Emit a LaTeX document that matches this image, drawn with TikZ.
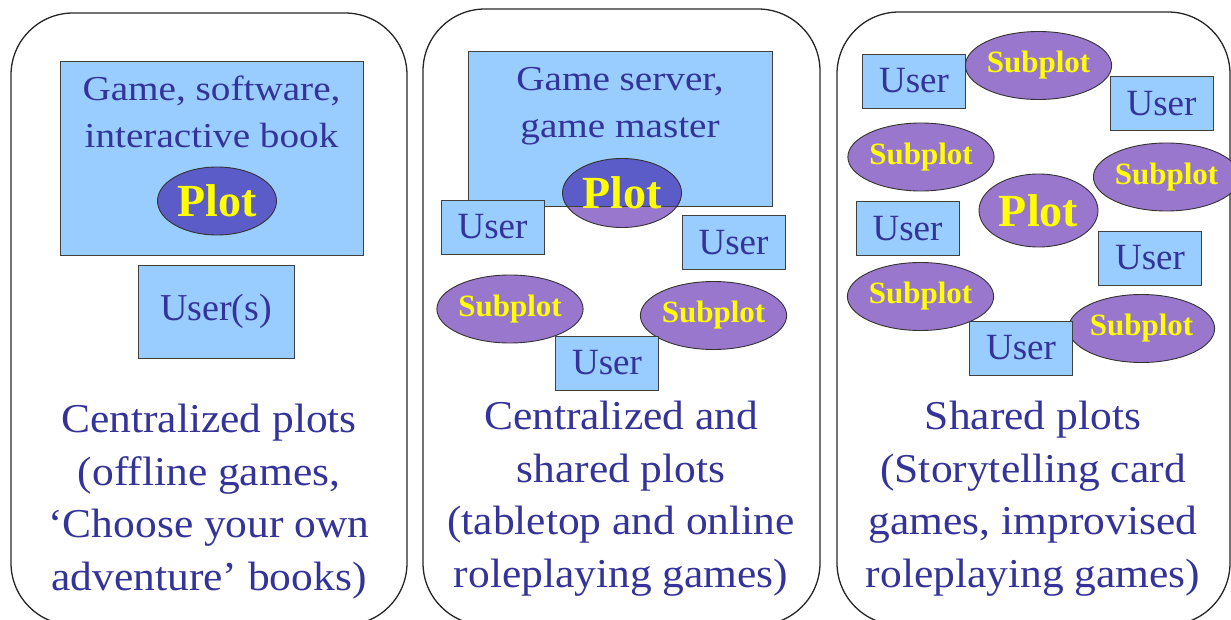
\documentclass[tikz,border=0pt]{standalone}
\usepackage{fontspec}
\setmainfont{Liberation Serif}
\newfontfamily\boxfont{Liberation Serif}[FakeStretch=1.12,Ligatures=TeX]
\newfontfamily\capfont{Liberation Serif}[FakeStretch=1.06,Ligatures=TeX]
\usetikzlibrary{shapes.geometric,positioning}

\definecolor{boxblue}{RGB}{153,204,255}
\definecolor{plotpurple}{RGB}{153,119,204}
\definecolor{plotdark}{RGB}{92,92,200}
\definecolor{textblue}{RGB}{51,51,153}
\definecolor{plotyellow}{RGB}{255,255,0}

\tikzset{
  panel/.style={draw=black!85, line width=1.3pt, rounded corners=62pt},
  bluebox/.style={draw=black!75, line width=0.9pt, fill=boxblue, inner sep=0pt},
  userbox/.style={bluebox, minimum width=103pt, minimum height=54pt, text=textblue, font=\fontsize{37}{42}\selectfont},
  plotnode/.style={ellipse, draw=black!80, line width=0.9pt, fill=plotpurple, inner sep=0pt, minimum width=119pt, minimum height=68pt, text=plotyellow, font=\bfseries\fontsize{46}{50}\selectfont},
  subplotnode/.style={plotnode, font=\bfseries\fontsize{31}{34}\selectfont},
  boxtext/.style={text=textblue, align=center, inner sep=0pt, font=\boxfont\fontsize{35}{47}\selectfont},
  caption/.style={text=textblue, align=center, inner sep=0pt, anchor=north, font=\capfont\fontsize{41}{52.5}\selectfont}
}

\begin{document}
\begin{tikzpicture}[x=1pt,y=-1pt]
\useasboundingbox (0,0) rectangle (1231,620);

%Panels
\draw[panel] (11,13) rectangle (407,625);
\draw[panel] (423,9) rectangle (820,625);
\draw[panel] (837,12) rectangle (1230,625);

%Centralized plots
\node[bluebox, minimum width=303pt, minimum height=194pt] (game) at (211.5,158) {};
\node[boxtext, below=15pt of game.north] (gametext) {Game, software,\\interactive book};
\node[plotnode, fill=plotdark] (plotA) at (217,201) {Plot};
\node[userbox, minimum width=156pt, minimum height=93pt, font=\fontsize{38}{42}\selectfont] (users) at (216,311.5) {User(s)};
\node[caption] (capA) at (209,404) {Centralized plots\\(offline games,\\‘Choose your own\\adventure’ books)};

%Centralized and shared plots
\node[bluebox, minimum width=304pt, minimum height=155pt] (server) at (620,128.5) {};
\node[boxtext, below=17pt of server.north] (servertext) {Game server,\\game master};
\node[plotnode, minimum height=69pt,
  path picture={\fill[plotdark] (server.north west) rectangle (server.south east);
    \draw[black!75, line width=0.9pt] (server.south west) -- (server.south east);}] (plotB) at (622,193) {Plot};
\node[userbox] (userA) at (492.5,227) {User};
\node[userbox] (userB) at (733.5,242.5) {User};
\node[subplotnode] (subA) at (510,309) {Subplot};
\node[subplotnode] (subB) at (713.5,315.5) {Subplot};
\node[userbox] (userC) at (607,363) {User};
\node[caption] (capB) at (621,401) {Centralized and\\shared plots\\(tabletop and online\\roleplaying games)};

%Shared plots
\node[userbox] (userD) at (914,81) {User};
\node[subplotnode] (subC) at (1038.5,65.5) {Subplot};
\node[userbox] (userE) at (1161.5,103.5) {User};
\node[subplotnode] (subD) at (921,157) {Subplot};
\node[subplotnode] (subE) at (1166.5,177) {Subplot};
\node[plotnode, minimum height=73pt] (plotC) at (1038.5,210.5) {Plot};
\node[userbox] (userF) at (907.5,228.5) {User};
\node[userbox] (userG) at (1150,258) {User};
\node[subplotnode] (subF) at (920.5,296.5) {Subplot};
\node[subplotnode] (subG) at (1141.5,328.5) {Subplot};
\node[userbox] (userH) at (1021,348) {User};
\node[caption] (capC) at (1033,401) {Shared plots\\(Storytelling card\\games, improvised\\roleplaying games)};

\end{tikzpicture}
\end{document}
